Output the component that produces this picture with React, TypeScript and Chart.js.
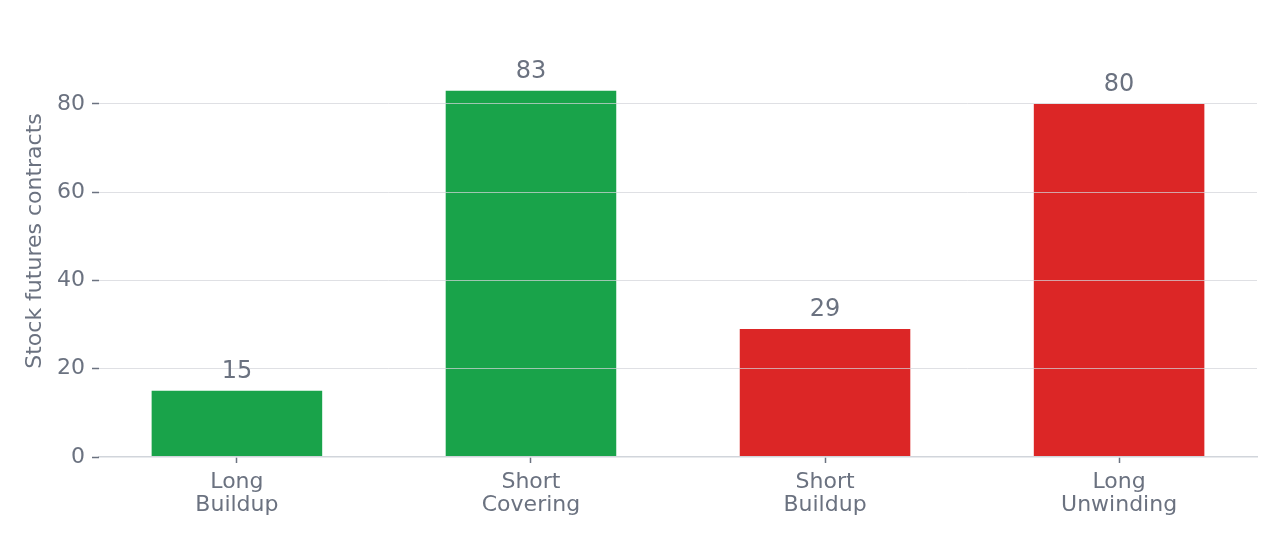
import { useEffect, useRef } from "react"
import { Chart, registerables } from "chart.js"

Chart.register(...registerables)

// Data
const categories: string[][] = [
    ["Long", "Buildup"],
    ["Short", "Covering"],
    ["Short", "Buildup"],
    ["Long", "Unwinding"],
]
const contracts: number[] = [15, 83, 29, 80]
const barColors: string[] = ["#19a34a", "#19a34a", "#dc2626", "#dc2626"]
const yTicks: number[] = [0, 20, 40, 60, 80]

const TEXT = "#6b7280"
const FONT = "DejaVu Sans"

// Draws the value above each bar, on top of everything
const valueLabels = {
    id: "valueLabels",
    afterDraw(chart: Chart) {
        const ctx = chart.ctx
        const meta = chart.getDatasetMeta(0)
        ctx.save()
        ctx.font = `24px "${FONT}"`
        ctx.fillStyle = TEXT
        ctx.textAlign = "center"
        ctx.textBaseline = "alphabetic"
        meta.data.forEach((bar: any, i: number) => {
            ctx.fillText(String(contracts[i]), bar.x, bar.y - 13)
        })
        ctx.restore()
    },
}

export default function App() {
    const canvasRef = useRef<HTMLCanvasElement>(null)
    const chartInstance = useRef<Chart | null>(null)

    useEffect(() => {
        if (!canvasRef.current) return
        if (chartInstance.current) chartInstance.current.destroy()

        const ctx = canvasRef.current.getContext("2d")
        if (!ctx) return

        chartInstance.current = new Chart(ctx, {
            type: "bar",
            data: {
                datasets: [
                    {
                        label: "Stock futures contracts",
                        data: contracts.map((v, i) => ({ x: i, y: v })),
                        backgroundColor: barColors,
                        borderWidth: 0,
                        barPercentage: 0.58,
                        categoryPercentage: 1,
                    },
                ],
            },
            options: {
                animation: false,
                responsive: true,
                maintainAspectRatio: false,
                layout: { padding: { top: 25, right: 23, left: 1, bottom: 0 } },
                plugins: {
                    legend: { display: false },
                    tooltip: { enabled: false },
                },
                scales: {
                    x: {
                        type: "linear",
                        offset: false,
                        min: -0.469,
                        max: categories.length - 1 + 0.469,
                        afterBuildTicks: (scale: any) => {
                            scale.ticks = categories.map((_, i) => ({ value: i }))
                        },
                        afterFit: (scale: any) => {
                            scale.height = 87
                        },
                        grid: {
                            offset: false,
                            drawOnChartArea: false,
                            drawTicks: true,
                            tickLength: 6,
                            tickColor: TEXT,
                            tickWidth: 1.5,
                            z: 1,
                        },
                        border: { display: true, color: "#d1d5db", width: 1.5, z: 1 },
                        ticks: {
                            color: TEXT,
                            padding: 8,
                            font: { family: FONT, size: 22, lineHeight: 1.05 },
                            maxRotation: 0,
                            autoSkip: false,
                            callback: (value: any) => categories[value] ?? "",
                        },
                    },
                    y: {
                        min: 0,
                        max: 97.9,
                        afterBuildTicks: (scale: any) => {
                            scale.ticks = yTicks.map((v) => ({ value: v }))
                        },
                        afterFit: (scale: any) => {
                            scale.width = 98
                        },
                        grid: {
                            color: (c: any) => (c.tick && c.tick.value === 0 ? "rgba(0,0,0,0)" : "rgba(210,212,218,0.72)"),
                            lineWidth: 1,
                            drawTicks: true,
                            tickLength: 7,
                            tickColor: TEXT,
                            tickWidth: 1.5,
                            z: 1,
                        },
                        border: { display: false },
                        ticks: {
                            color: TEXT,
                            padding: 7,
                            font: { family: FONT, size: 22 },
                        },
                        title: {
                            display: true,
                            text: "Stock futures contracts",
                            color: TEXT,
                            font: { family: FONT, size: 22, lineHeight: 1.2 },
                            padding: { top: 21, bottom: 0 },
                        },
                    },
                },
            },
            plugins: [valueLabels],
        })

        return () => {
            if (chartInstance.current) {
                chartInstance.current.destroy()
                chartInstance.current = null
            }
        }
    }, [])

    return (
        <div style={{ position: "fixed", left: 0, top: 0, width: "1280px", height: "544px", background: "#fff" }}>
            <canvas ref={canvasRef}></canvas>
        </div>
    )
}
